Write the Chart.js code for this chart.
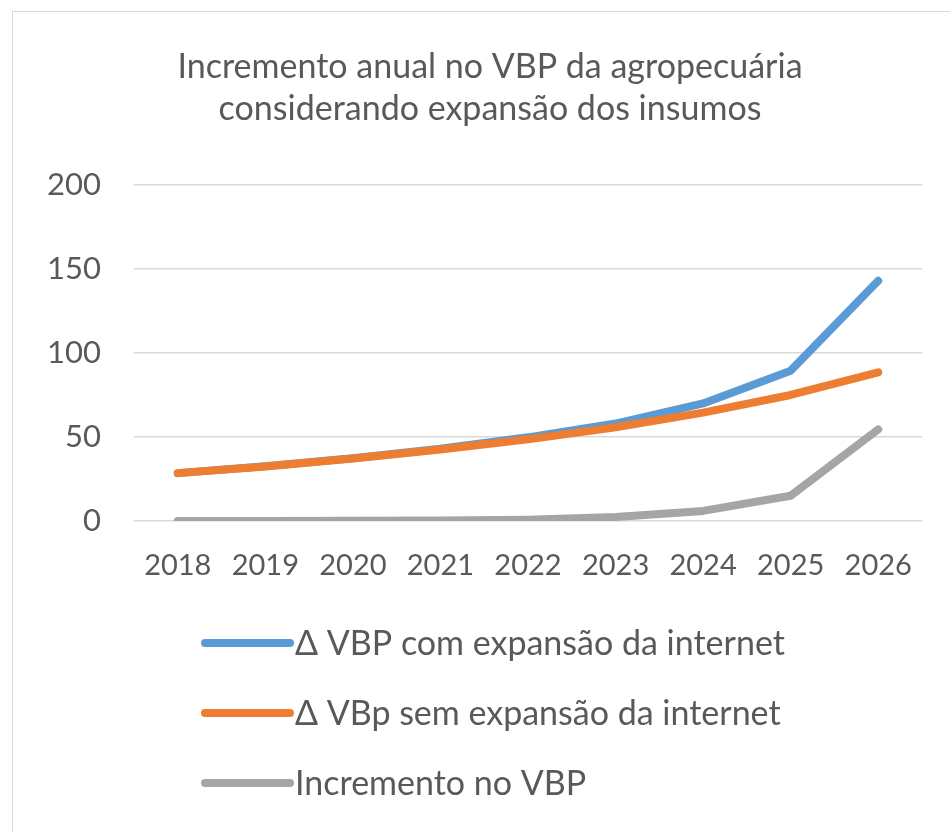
<!DOCTYPE html>
<html>
<head>
<meta charset="utf-8">
<script src="https://cdn.jsdelivr.net/npm/chart.js@4.4.0/dist/chart.umd.min.js"></script>
<style>
  html, body { margin: 0; padding: 0; background: #fff; overflow: hidden; }
  #wrap { position: relative; width: 950px; height: 832px; overflow: hidden; }
  #frame { position: absolute; left: 12px; top: 11px; width: 1000px; height: 900px;
           border: 1.5px solid #d9d9d9; box-sizing: border-box; }
  #cv { position: absolute; left: 12px; top: 0; }
</style>
</head>
<body>
<div id="wrap">
  <div id="frame"></div>
  <canvas id="cv" width="956" height="832" style="width:956px;height:832px"></canvas>
</div>
<script>
const titleLines = ['Incremento anual no VBP da agropecuária', 'considerando expansão dos insumos'];
const years = ['2018', '2019', '2020', '2021', '2022', '2023', '2024', '2025', '2026'];
const comInternet = [28.5, 32.6, 37.3, 43.0, 49.8, 58.0, 70.0, 89.5, 143.0];
const semInternet = [28.5, 32.5, 37.2, 42.6, 48.6, 55.8, 64.5, 75.0, 88.5];
const incremento = [0, 0, 0.1, 0.3, 0.8, 2.4, 6.0, 15.0, 54.5];
const seriesLabels = ['\u0394 VBP com expansão da internet', '\u0394 VBp sem expansão da internet', 'Incremento no VBP'];
const seriesColors = ['#5B9BD5', '#ED7D31', '#A5A5A5'];
const yTicks = [0, 50, 100, 150, 200];

const FONT = 'Lato';
const TEXT = '#595959';

const customLegend = {
  id: 'customLegend',
  afterDraw(chart) {
    const ctx = chart.ctx;
    const x0 = 193, x1 = 278, tx = 283;
    const rows = [643, 713, 783];
    ctx.save();
    chart.data.datasets.forEach((ds, i) => {
      const y = rows[i];
      ctx.strokeStyle = ds.borderColor;
      ctx.lineWidth = 8;
      ctx.lineCap = 'round';
      ctx.beginPath();
      ctx.moveTo(x0, y);
      ctx.lineTo(x1, y);
      ctx.stroke();
      ctx.fillStyle = TEXT;
      ctx.font = '34px ' + FONT;
      ctx.textBaseline = 'middle';
      ctx.textAlign = 'left';
      ctx.fillText(ds.label, tx, y + 1);
    });
    ctx.restore();
  }
};

const series = [comInternet, semInternet, incremento];

new Chart(document.getElementById('cv'), {
  type: 'line',
  data: {
    labels: years,
    datasets: series.map((d, i) => ({
      label: seriesLabels[i],
      data: d,
      borderColor: seriesColors[i],
      backgroundColor: seriesColors[i],
      borderWidth: 8,
      borderCapStyle: 'round',
      borderJoinStyle: 'round',
      pointRadius: 0,
      tension: 0,
      fill: false,
      order: i === 0 ? 2 : (i === 1 ? 1 : 0)
    }))
  },
  options: {
    responsive: false,
    animation: false,
    layout: { padding: { left: 0, right: 0, top: 0, bottom: 247 } },
    plugins: {
      legend: { display: false },
      tooltip: { enabled: false },
      title: {
        display: true,
        text: titleLines,
        color: TEXT,
        font: { family: FONT, size: 34, weight: 'normal', lineHeight: 1.235 },
        padding: { top: 46, bottom: 55 }
      }
    },
    scales: {
      x: {
        offset: true,
        grid: { display: false, drawTicks: false },
        border: { display: false },
        ticks: { color: TEXT, font: { family: FONT, size: 29 }, padding: 27, maxRotation: 0 },
        afterFit(s) { s.height = 64; }
      },
      y: {
        min: 0, max: 200,
        afterBuildTicks(s) { s.ticks = yTicks.map(v => ({ value: v })); },
        grid: { color: '#d9d9d9', lineWidth: 1.5, drawTicks: false },
        border: { display: false },
        ticks: { color: TEXT, font: { family: FONT, size: 31 }, padding: 33 },
        afterFit(s) { s.width = 122; }
      },
      yRight: {
        position: 'right',
        min: 0, max: 200,
        grid: { display: false, drawTicks: false },
        border: { display: false },
        ticks: { display: false },
        afterFit(s) { s.width = 46; }
      }
    }
  },
  plugins: [customLegend]
});
</script>
</body>
</html>
